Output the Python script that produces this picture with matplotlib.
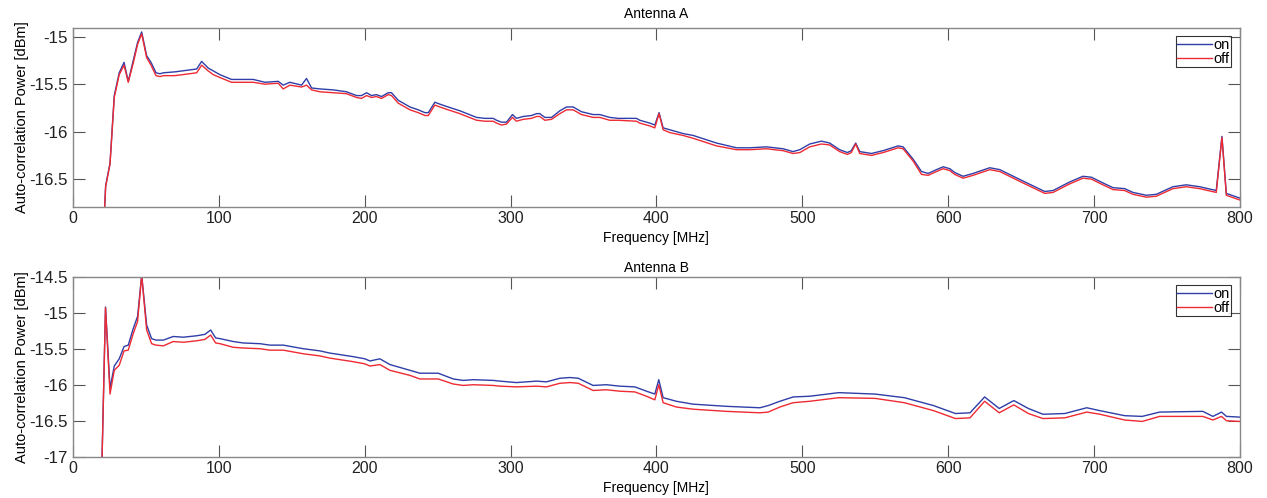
import matplotlib
matplotlib.use('Agg')
import matplotlib.pyplot as plt

plt.rcParams['font.family'] = ['Liberation Sans', 'DejaVu Sans']

# Antenna A - frequency [MHz] and auto-correlation power [dBm]
freq_a = [19.5, 22.4, 25.4, 28.3, 31.7, 35.0, 37.9, 41.3, 44.3, 47.1, 50.5, 53.5, 56.9, 59.6, 62.0,
          70.0, 84.8, 88.2, 92.7, 96.2, 100.8, 108.7, 123.6, 131.6, 140.7, 144.1, 148.7, 156.7,
          160.1, 163.6, 169.3, 178.4, 187.5, 194.4, 197.8, 201.3, 204.7, 208.0, 211.6, 216.1,
          218.4, 223.0, 231.0, 236.7, 241.3, 243.6, 248.1, 251.5, 257.2, 265.2, 276.7, 282.4,
          288.1, 290.4, 293.8, 297.2, 301.3, 304.0, 308.7, 314.4, 317.8, 320.0, 323.5, 328.1,
          333.8, 338.4, 342.9, 348.6, 356.6, 361.2, 368.0, 373.8, 386.3, 388.6, 395.5, 398.9,
          401.8, 404.6, 409.2, 418.3, 425.2, 441.2, 454.9, 464.0, 475.4, 486.8, 493.7, 498.3,
          505.1, 513.1, 518.8, 525.6, 530.9, 533.6, 536.6, 539.4, 547.4, 555.4, 565.7, 569.1,
          576.0, 581.7, 586.3, 592.0, 596.6, 601.1, 604.5, 610.2, 617.1, 628.5, 635.4, 651.3,
          666.2, 671.9, 683.3, 692.4, 698.2, 706.1, 713.0, 721.0, 726.7, 735.9, 742.7, 754.1,
          763.3, 772.4, 783.8, 787.7, 790.7, 800.0]
on_a = [-17.5, -16.57, -16.33, -15.62, -15.38, -15.27, -15.47, -15.25, -15.06, -14.95, -15.20, -15.27,
        -15.38, -15.39, -15.38, -15.37, -15.34, -15.26, -15.33, -15.36, -15.40, -15.45, -15.45,
        -15.48, -15.47, -15.51, -15.48, -15.51, -15.44, -15.54, -15.55, -15.56, -15.58, -15.62,
        -15.62, -15.59, -15.62, -15.61, -15.63, -15.59, -15.59, -15.67, -15.74, -15.77, -15.80,
        -15.80, -15.69, -15.71, -15.74, -15.78, -15.85, -15.86, -15.86, -15.88, -15.90, -15.90,
        -15.82, -15.86, -15.84, -15.83, -15.81, -15.81, -15.85, -15.85, -15.78, -15.74, -15.74,
        -15.79, -15.82, -15.82, -15.85, -15.86, -15.86, -15.88, -15.91, -15.93, -15.80, -15.96,
        -15.98, -16.02, -16.04, -16.12, -16.17, -16.17, -16.16, -16.18, -16.21, -16.19, -16.13,
        -16.10, -16.12, -16.19, -16.22, -16.20, -16.12, -16.21, -16.23, -16.20, -16.15, -16.16,
        -16.29, -16.42, -16.44, -16.40, -16.37, -16.39, -16.43, -16.47, -16.44, -16.38, -16.40,
        -16.52, -16.63, -16.62, -16.53, -16.47, -16.48, -16.54, -16.59, -16.60, -16.64, -16.67,
        -16.66, -16.58, -16.56, -16.58, -16.62, -16.05, -16.65, -16.70]
off_a = [-17.5, -16.58, -16.34, -15.64, -15.40, -15.30, -15.48, -15.28, -15.08, -14.97, -15.22, -15.30,
         -15.41, -15.42, -15.41, -15.41, -15.38, -15.30, -15.36, -15.40, -15.43, -15.48, -15.48,
         -15.50, -15.49, -15.55, -15.51, -15.53, -15.51, -15.56, -15.58, -15.59, -15.60, -15.64,
         -15.65, -15.62, -15.64, -15.63, -15.65, -15.61, -15.62, -15.70, -15.77, -15.80, -15.83,
         -15.83, -15.72, -15.74, -15.77, -15.81, -15.88, -15.89, -15.89, -15.91, -15.93, -15.92,
         -15.85, -15.89, -15.87, -15.86, -15.84, -15.84, -15.88, -15.87, -15.81, -15.77, -15.77,
         -15.82, -15.85, -15.85, -15.88, -15.88, -15.89, -15.91, -15.94, -15.96, -15.81, -15.98,
         -16.01, -16.04, -16.07, -16.15, -16.19, -16.19, -16.18, -16.20, -16.23, -16.22, -16.16,
         -16.13, -16.14, -16.21, -16.24, -16.22, -16.13, -16.23, -16.25, -16.22, -16.17, -16.18,
         -16.31, -16.45, -16.46, -16.42, -16.39, -16.41, -16.45, -16.49, -16.46, -16.40, -16.42,
         -16.54, -16.65, -16.64, -16.55, -16.49, -16.50, -16.56, -16.61, -16.62, -16.66, -16.69,
         -16.68, -16.60, -16.58, -16.60, -16.64, -16.06, -16.67, -16.72]

# Antenna B
freq_b = [19.5, 22.3, 25.4, 28.3, 31.7, 35.0, 37.9, 41.3, 44.3, 47.1, 50.5, 53.9, 56.9, 62.0, 68.7,
          75.6, 84.8, 90.5, 94.4, 97.8, 100.8, 109.9, 116.7, 128.2, 135.0, 144.2, 157.9, 169.3,
          176.0, 192.1, 200.1, 203.6, 210.4, 217.3, 231.0, 237.8, 250.4, 260.7, 267.5, 274.4,
          288.1, 292.7, 304.0, 317.8, 324.6, 333.8, 340.7, 346.4, 356.6, 365.7, 374.9, 385.2,
          393.2, 398.9, 401.6, 404.6, 413.7, 425.1, 448.0, 470.9, 476.6, 484.6, 493.7, 505.1,
          525.0, 550.0, 570.0, 590.0, 605.0, 615.0, 625.0, 635.0, 645.0, 655.0, 665.0, 680.0,
          695.0, 704.0, 721.0, 733.0, 745.0, 774.6, 781.5, 787.4, 790.8, 800.0]
on_b = [-17.4, -14.92, -16.05, -15.74, -15.64, -15.47, -15.45, -15.22, -15.05, -14.48, -15.17, -15.36,
        -15.38, -15.38, -15.33, -15.34, -15.32, -15.30, -15.24, -15.35, -15.36, -15.40, -15.42,
        -15.43, -15.45, -15.45, -15.50, -15.53, -15.56, -15.61, -15.64, -15.67, -15.64, -15.72,
        -15.80, -15.84, -15.84, -15.92, -15.94, -15.93, -15.94, -15.95, -15.97, -15.95, -15.96,
        -15.91, -15.90, -15.91, -16.01, -16.00, -16.02, -16.03, -16.09, -16.13, -15.93, -16.18,
        -16.23, -16.27, -16.30, -16.32, -16.29, -16.23, -16.17, -16.16, -16.11, -16.13, -16.18,
        -16.29, -16.40, -16.39, -16.17, -16.33, -16.22, -16.33, -16.41, -16.40, -16.32, -16.36,
        -16.43, -16.44, -16.38, -16.37, -16.44, -16.38, -16.44, -16.45]
off_b = [-17.4, -14.93, -16.13, -15.80, -15.73, -15.53, -15.52, -15.29, -15.12, -14.48, -15.24, -15.43,
         -15.45, -15.46, -15.40, -15.41, -15.39, -15.37, -15.31, -15.42, -15.43, -15.48, -15.49,
         -15.50, -15.52, -15.52, -15.57, -15.60, -15.63, -15.68, -15.71, -15.74, -15.72, -15.80,
         -15.87, -15.92, -15.92, -15.99, -16.01, -16.00, -16.01, -16.02, -16.03, -16.02, -16.03,
         -15.98, -15.97, -15.98, -16.08, -16.07, -16.09, -16.10, -16.16, -16.21, -16.00, -16.25,
         -16.31, -16.34, -16.37, -16.39, -16.38, -16.31, -16.25, -16.23, -16.18, -16.19, -16.25,
         -16.36, -16.47, -16.46, -16.23, -16.39, -16.28, -16.40, -16.47, -16.46, -16.38, -16.41,
         -16.49, -16.51, -16.44, -16.44, -16.49, -16.44, -16.50, -16.51]

xticks = [0, 100, 200, 300, 400, 500, 600, 700, 800]
yticks_a = [-16.5, -16, -15.5, -15]
yticks_b = [-17, -16.5, -16, -15.5, -15, -14.5]
ytick_labels_a = ['-16.5', '-16', '-15.5', '-15']
ytick_labels_b = ['-17', '-16.5', '-16', '-15.5', '-15', '-14.5']

BLUE = '#2f3ea8'
RED = '#ee2a33'


def style_axes(ax, title, ylim, yticks, ylabels, title_pad):
    ax.set_xlim(0, 800)
    ax.set_ylim(*ylim)
    ax.set_xticks(xticks)
    ax.set_yticks(yticks)
    ax.set_yticklabels(ylabels)
    ax.tick_params(direction='in', length=8.5, width=0.8, color='#555555',
                   labelcolor='#222222', top=True, right=True, pad=3)
    ax.tick_params(axis='x', labelsize=11.5)
    ax.tick_params(axis='y', labelsize=12.2, pad=4)
    for s in ax.spines.values():
        s.set_color('#888888')
        s.set_linewidth(1.0)
    ax.set_title(title, fontsize=10, pad=title_pad)
    ax.set_xlabel('Frequency [MHz]', fontsize=10, labelpad=4)
    ax.set_ylabel('Auto-correlation Power [dBm]', fontsize=10.5, labelpad=0)
    leg = ax.legend(loc='upper right', fontsize=10.5, frameon=True, fancybox=False,
                    borderpad=0.1, handlelength=2.4, handletextpad=0.1, labelspacing=0.0,
                    borderaxespad=0.6)
    leg.get_frame().set_edgecolor('black')
    leg.get_frame().set_linewidth(0.8)


fig = plt.figure(figsize=(12.67, 4.98), dpi=100)
ax1 = fig.add_axes([0.0576, 0.585, 0.921, 0.3594])
ax2 = fig.add_axes([0.0576, 0.0829, 0.921, 0.3614])

ax1.plot(freq_a, on_a, color=BLUE, lw=1.0, label='on')
ax1.plot(freq_a, off_a, color=RED, lw=1.0, label='off')
style_axes(ax1, 'Antenna A', (-16.79, -14.905), yticks_a, ytick_labels_a, 7)

ax2.plot(freq_b, on_b, color=BLUE, lw=1.0, label='on')
ax2.plot(freq_b, off_b, color=RED, lw=1.0, label='off')
style_axes(ax2, 'Antenna B', (-17, -14.5), yticks_b, ytick_labels_b, 3.5)

fig.savefig('out.png', dpi=100)
